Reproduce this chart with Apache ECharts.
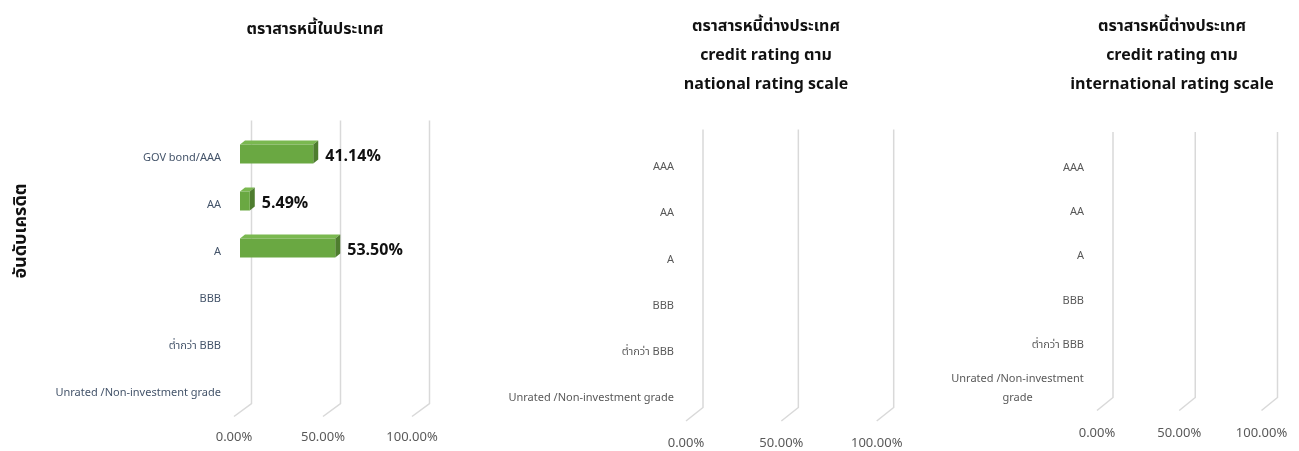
<!DOCTYPE html>
<html>
<head>
<meta charset="utf-8">
<script src="https://cdn.jsdelivr.net/npm/echarts@6/dist/echarts.min.js"></script>
<style>html,body{margin:0;padding:0;background:#fff;}#c{width:1299px;height:451px;}</style>
</head>
<body>
<div id="c"></div>
<script>
// ---- data ----
const categoriesDomestic = ['GOV bond/AAA', 'AA', 'A', 'BBB', 'ต่ำกว่า BBB', 'Unrated /Non-investment grade'];
const categoriesNational = ['AAA', 'AA', 'A', 'BBB', 'ต่ำกว่า BBB', 'Unrated /Non-investment grade'];
const categoriesInternational = ['AAA', 'AA', 'A', 'BBB', 'ต่ำกว่า BBB', 'Unrated /Non-investment\ngrade'];
const valuesDomestic = [0.4114, 0.0549, 0.5350, null, null, null];
const valuesNational = [null, null, null, null, null, null];
const valuesInternational = [null, null, null, null, null, null];
const tickValues = [0, 0.5, 1];
const titleDomestic = 'ตราสารหนี้ในประเทศ';
const titleNational = 'ตราสารหนี้ต่างประเทศ\ncredit rating ตาม\nnational rating scale';
const titleInternational = 'ตราสารหนี้ต่างประเทศ\ncredit rating ตาม\ninternational rating scale';
const yAxisTitle = 'อันดับเครดิต';

const FONT = '"Noto Sans Thai", "Noto Sans", "Open Sans", sans-serif';

const panels = [
  {grid:{left:234, width:178, top:135.5, height:282}, dx:17.5, dy:-13, xMargin:14, yMargin:13, labelColor:'#44546A', cats:categoriesDomestic, vals:valuesDomestic},
  {grid:{left:686, width:190.7, top:145, height:277}, dx:17, dy:-13.5, xMargin:16, yMargin:12, labelColor:'#595959', cats:categoriesNational, vals:valuesNational},
  {grid:{left:1097, width:164.5, top:147, height:264.5}, dx:16, dy:-13, xMargin:16, yMargin:13, labelColor:'#595959', cats:categoriesInternational, vals:valuesInternational}
];

function pct(v){ return (v*100).toFixed(2) + '%'; }

function gridRender(p){
  return function(params, api){
    const cs = params.coordSys;
    const x = api.coord([api.value(0), 0])[0];
    const bottom = cs.y + cs.height;
    return {type:'polyline', shape:{points:[[x, bottom-1],[x+p.dx, bottom-1+p.dy],[x+p.dx, cs.y+p.dy-2]]},
      style:{stroke:'#d9d9d9', lineWidth:1.5, fill:null}};
  };
}

function barRender(params, api){
  const v = api.value(0), i = api.value(1);
  const bx = 6, by = -5, d = 5, dv = 4, h = 19;
  const p0 = api.coord([0, i]);
  const p1 = api.coord([v, i]);
  const x0 = p0[0] + bx, x1 = p1[0] + bx;
  const yc = p1[1] + by;
  const top = yc - h/2, bot = yc + h/2;
  return {type:'group', children:[
    {type:'polygon', shape:{points:[[x0,top],[x0+d,top-dv],[x1+d,top-dv],[x1,top]]}, style:{fill:'#7ab850'}},
    {type:'polygon', shape:{points:[[x1,top],[x1+d,top-dv],[x1+d,bot-dv],[x1,bot]]}, style:{fill:'#4e7d2f'}},
    {type:'rect', shape:{x:x0, y:top, width:x1-x0, height:h}, style:{fill:'#6aa842'}},
    {type:'text', style:{text:pct(v), x:x1+d+7, y:yc+4, fill:'#111', fontSize:16, fontWeight:'bold', fontFamily:FONT, align:'left', verticalAlign:'middle'}}
  ]};
}

const grids = [], xAxes = [], yAxes = [], series = [];
panels.forEach((p, k) => {
  grids.push(Object.assign({containLabel:false}, p.grid));
  xAxes.push({type:'value', gridIndex:k, min:0, max:1, interval:0.5,
    axisLine:{show:false}, axisTick:{show:false}, splitLine:{show:false},
    axisLabel:{formatter:pct, color:'#595959', fontSize:13, fontFamily:FONT, margin:p.xMargin}});
  yAxes.push({type:'category', gridIndex:k, inverse:true,
    data:p.cats.map((c, j) => (k === 2 && j === 5) ? {value:c, textStyle:{align:'center', padding:[0,133,0,0], lineHeight:19}} : c),
    axisLine:{show:false}, axisTick:{show:false}, splitLine:{show:false},
    axisLabel:{color:p.labelColor, fontSize:11, fontFamily:FONT, margin:p.yMargin, interval:0}});
  series.push({type:'custom', xAxisIndex:k, yAxisIndex:k, renderItem:gridRender(p), silent:true,
    data:tickValues.map(v => [v, 0]), encode:{x:0, y:1}, z:1});
  series.push({type:'custom', xAxisIndex:k, yAxisIndex:k, renderItem:barRender,
    data:p.vals.map((v, j) => v == null ? null : [v, j]).filter(Boolean), encode:{x:0, y:1}, z:5});
});

const titleStyle = {fontSize:16, fontWeight:'bold', color:'#111', fontFamily:FONT, lineHeight:29};
const option = {
  animation:false,
  backgroundColor:'#fff',
  title:[
    {text:titleDomestic, left:310, top:11, textAlign:'center', textStyle:titleStyle},
    {text:titleNational, left:761, top:8, textAlign:'center', textStyle:titleStyle},
    {text:titleInternational, left:1167, top:8, textAlign:'center', textStyle:titleStyle}
  ],
  graphic:[
    {type:'text', x:22, y:231, rotation:Math.PI/2, style:{text:yAxisTitle, fontSize:18, fontWeight:'bold', fill:'#111', fontFamily:FONT, align:'center', verticalAlign:'middle'}}
  ],
  grid:grids, xAxis:xAxes, yAxis:yAxes, series:series
};
const chart = echarts.init(document.getElementById('c'));
chart.setOption(option);
</script>
</body>
</html>
